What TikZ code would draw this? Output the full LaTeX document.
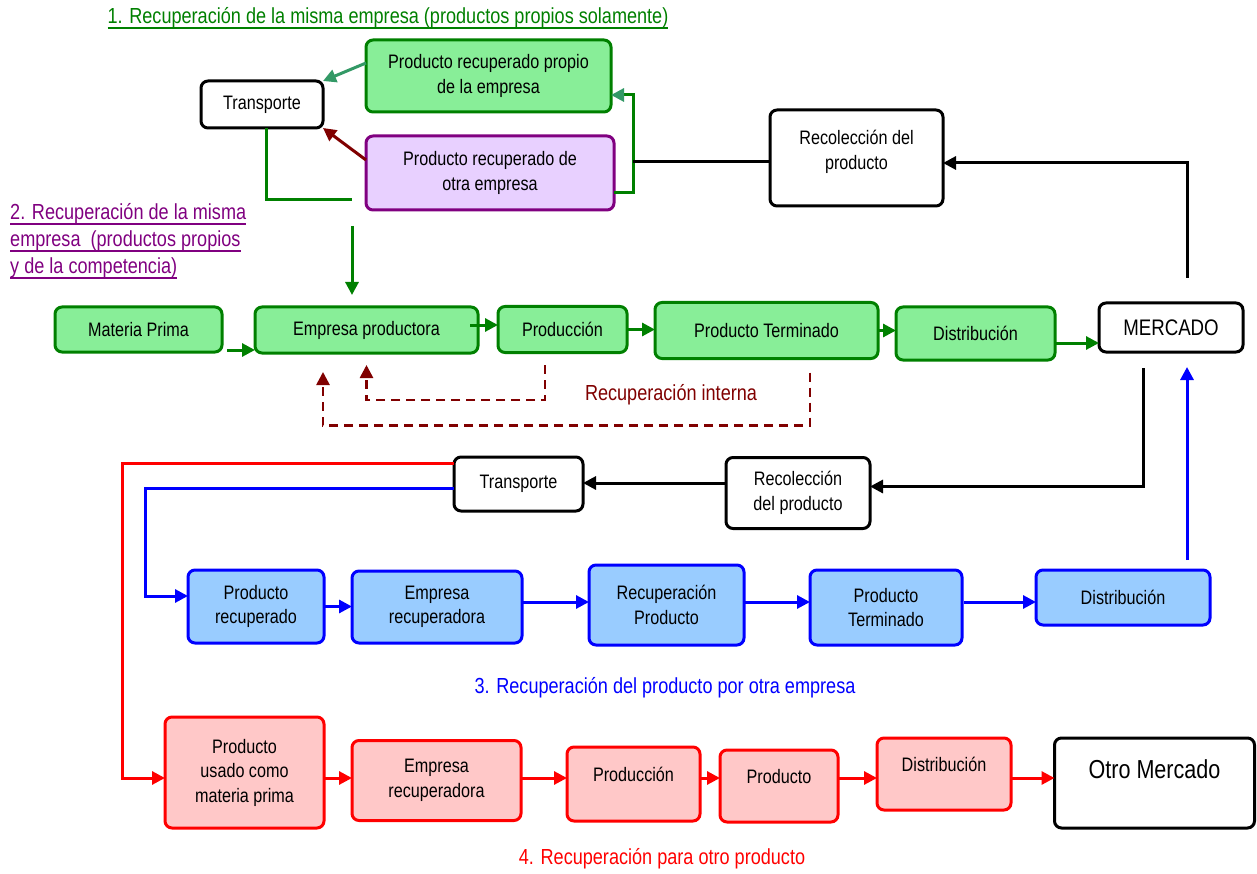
\documentclass[tikz,border=0pt]{standalone}
\usepackage{fontspec}
\setmainfont{Liberation Sans}[FakeStretch=0.83]
\usetikzlibrary{arrows.meta}
\newcommand{\subr}[1]{\setbox0=\hbox{#1}\rlap{\rule[-5.5pt]{\wd0}{1.6pt}}\box0}
\definecolor{verde}{RGB}{0,128,0}
\definecolor{vclaro}{RGB}{136,238,152}
\definecolor{teal2}{RGB}{51,153,102}
\definecolor{morado}{RGB}{128,0,128}
\definecolor{lila}{RGB}{232,208,255}
\definecolor{granate}{RGB}{128,0,0}
\definecolor{azul}{RGB}{0,0,255}
\definecolor{aclaro}{RGB}{153,204,255}
\definecolor{rojo}{RGB}{255,0,0}
\definecolor{rclaro}{RGB}{255,200,200}

\begin{document}
\begin{tikzpicture}[x=1pt,y=-1pt,
    caja/.style={draw, rounded corners=7pt, line width=3pt, align=center,
      inner sep=0pt, outer sep=0pt, font=\fontsize{19.5}{24.5}\selectfont},
    sz/.style 2 args={minimum width=#1, minimum height=#2},
    cnegra/.style={caja, draw=black, fill=white},
    cverde/.style={caja, draw=verde, fill=vclaro},
    cmorada/.style={caja, draw=morado, fill=lila},
    cazul/.style={caja, draw=azul, fill=aclaro},
    croja/.style={caja, draw=rojo, fill=rclaro},
    linea/.style={line width=3pt},
    flecha/.style={linea, -{Triangle[length=13pt,width=13pt]}},
    punteada/.style={line width=2.6pt, granate, dash pattern=on 9pt off 6pt,
      -{Triangle[length=13pt,width=13pt]}},
    titulo/.style={font=\fontsize{21.8}{27}\selectfont, inner sep=0pt}]
    \useasboundingbox (0,0) rectangle (1257,874);

    \node[titulo, text=verde] (L1) at (388,18)
      {\subr{1. Recuperación de la misma empresa (productos propios solamente)}};
    \node[titulo, text=morado, align=left, anchor=north west] (L2) at (10,203)
      {\subr{2. Recuperación de la misma}\\\subr{empresa\ \ (productos propios}\\\subr{y de la competencia)}};

    \node[cnegra, sz={122pt}{47pt}] (T1) at (262,104.5) {Transporte};
    \node[cverde, sz={245pt}{72pt}] (PP) at (488.5,76) {Producto recuperado propio\\de la empresa};
    \node[cmorada, sz={248pt}{74pt}] (PO) at (490,173) {Producto recuperado de\\otra empresa};
    \node[cnegra, sz={173pt}{96pt}] (R1) at (856.5,158)
      {\raisebox{6pt}[\height][\depth]{\begin{tabular}{@{}c@{}}Recolección del\\producto\end{tabular}}};
    \coordinate (G1) at (352,200);
    \coordinate (G2) at (352,226);
    \coordinate (J1) at (633,162);

    \node[cverde, sz={167pt}{45pt}] (MP) at (138.5,329.5) {Materia Prima};
    \node[cverde, sz={223pt}{46pt}] (EP) at (366.5,330) {Empresa productora};
    \node[cverde, sz={129pt}{46pt}] (P1) at (562.5,329.5) {Producción};
    \node[cverde, sz={223pt}{56pt}] (PT1) at (766.5,330.5) {Producto Terminado};
    \node[cverde, sz={159pt}{53pt}] (D1) at (975.5,333.5) {Distribución};
    \node[cnegra, sz={144pt}{49pt}, font=\fontsize{22.5}{26}\selectfont] (M) at (1171,327.5) {MERCADO};
    \node[titulo, text=granate] (RI) at (671,395) {Recuperación interna};

    \node[cnegra, sz={129pt}{54pt}] (T2) at (518.5,484) {Transporte};
    \node[cnegra, sz={144pt}{71pt}] (R2) at (798,493) {Recolección\\del producto};

    \node[cazul, sz={136pt}{73pt}] (PR) at (256,606.5) {Producto\\recuperado};
    \node[cazul, sz={170pt}{72pt}] (ER2) at (437,607) {Empresa\\recuperadora};
    \node[cazul, sz={155pt}{80pt}] (RP) at (666.5,605) {Recuperación\\Producto};
    \node[cazul, sz={152pt}{75pt}] (PT2) at (886,607.5) {Producto\\Terminado};
    \node[cazul, sz={174pt}{55pt}] (D2) at (1123,597.5) {Distribución};
    \node[titulo, text=azul] (L3) at (665,688) {3. Recuperación del producto por otra empresa};

    \node[croja, sz={159pt}{111pt}] (PU) at (244.5,772.5) {Producto\\usado como\\materia prima};
    \node[croja, sz={169pt}{80pt}] (ER3) at (436.5,780.5) {Empresa\\recuperadora};
    \node[croja, sz={133pt}{74pt}, text depth=20pt] (P3) at (633.5,784) {Producción};
    \node[croja, sz={118pt}{72pt}, text depth=20pt] (PD3) at (779,786) {Producto};
    \node[croja, sz={134pt}{72pt}, text depth=20pt] (D3) at (944,774) {Distribución};
    \node[cnegra, sz={200pt}{90pt}, font=\fontsize{26}{30}\selectfont, text depth=28pt] (OM) at (1154.5,783) {Otro Mercado};
    \node[titulo, text=rojo] (L4) at (662,859) {4. Recuperación para otro producto};

    \draw[flecha, teal2] ([yshift=13pt]PP.west) -- (T1.north east);
    \draw[flecha, granate] ([yshift=13pt]PO.west) -- (T1.south east);
    \draw[linea, verde] ([xshift=4pt]T1.south) |- (G1);
    \draw[flecha, verde, shorten >=12pt] (G2) -- (G2 |- EP.north);
    \draw[linea, verde, -{Triangle[length=13pt,width=13pt,color=teal2]}]
      ([yshift=-20pt]PO.east) -- ++(19,0) |- ([yshift=-19pt]PP.east);
    \draw[linea] ([yshift=-4pt]R1.west) -- (J1);
    \draw[flecha] ([xshift=16pt,yshift=25pt]M.north) |- ([yshift=-5pt]R1.east);

    \draw[flecha, verde] ([xshift=5pt,yshift=-20.5pt]MP.east) -- ([yshift=-20pt]EP.west);
    \draw[flecha, verde] ([xshift=-8pt,yshift=5pt]EP.east) -- ([yshift=4.5pt]P1.west);
    \draw[flecha, verde] (P1.east) -- (P1.east -| PT1.west);
    \draw[flecha, verde] (PT1.east) -- (PT1.east -| D1.west);
    \draw[flecha, verde] ([yshift=-9.5pt]D1.east) -- ([yshift=-9.5pt]D1.east -| M.west);
    \draw[punteada] ([xshift=-17.5pt,yshift=-12.5pt]P1.south) -- ++(0,35) -| ([yshift=-12pt]EP.south);
    \draw[punteada] ([xshift=43.5pt,yshift=-14pt]PT1.south) -- ++(0,53) -| ([xshift=-43.5pt,yshift=-19pt]EP.south);

    \draw[flecha] ([xshift=-28pt,yshift=-16pt]M.south) |- ([yshift=6.5pt]R2.east);
    \draw[flecha] ([yshift=10pt]R2.west) -- ([yshift=10pt]R2.west -| T2.east);
    \draw[flecha, azul] ([xshift=64pt,yshift=10pt]D2.north) -- ([xshift=16pt,yshift=-15pt]M.south);
    \draw[flecha, rojo] ([yshift=21pt]T2.west) -- ++(-332,0) |- ([yshift=-5.5pt]PU.west);
    \draw[flecha, azul] ([yshift=-4pt]T2.west) -- ++(-309,0) |- ([yshift=10.5pt]PR.west);

    \draw[flecha, azul] (PR.east) -- (PR.east -| ER2.west);
    \draw[flecha, azul] ([yshift=5pt]ER2.east) -- ([yshift=5pt]ER2.east -| RP.west);
    \draw[flecha, azul] ([yshift=3pt]RP.east) -- ([yshift=3pt]RP.east -| PT2.west);
    \draw[flecha, azul] ([xshift=2pt,yshift=5.5pt]PT2.east) -- ([yshift=5.5pt]PT2.east -| D2.west);

    \draw[flecha, rojo] ([yshift=-5.5pt]PU.east) -- ([yshift=-5.5pt]PU.east -| ER3.west);
    \draw[flecha, rojo] ([yshift=2.5pt]ER3.east) -- ([yshift=2.5pt]ER3.east -| P3.west);
    \draw[flecha, rojo] ([yshift=6pt]P3.east) -- ([yshift=6pt]P3.east -| PD3.west);
    \draw[flecha, rojo] ([yshift=8pt]PD3.east) -- ([yshift=8pt]PD3.east -| D3.west);
    \draw[flecha, rojo] ([yshift=-4pt]D3.east) -- ([yshift=-4pt]D3.east -| OM.west);
  \end{tikzpicture}
\end{document}
